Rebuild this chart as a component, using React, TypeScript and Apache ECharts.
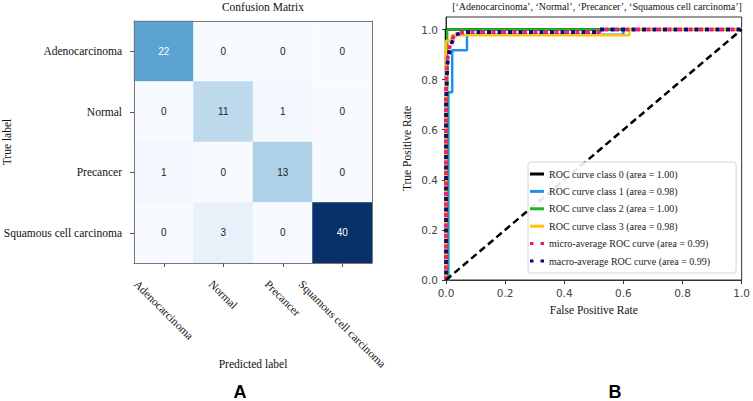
import React, { useEffect, useRef } from 'react';
import * as echarts from 'echarts';

const classNames = ['Adenocarcinoma', 'Normal', 'Precancer', 'Squamous cell carcinoma'];
// rows = true label, cols = predicted label
const confusion = [
  [22, 0, 0, 0],
  [0, 11, 1, 0],
  [1, 0, 13, 0],
  [0, 3, 0, 40],
];
const blues = ['#f7fbff', '#deebf7', '#c6dbef', '#9ecae1', '#6baed6', '#4292c6', '#2171b5', '#08519c', '#08306b'];

const rocClass0 = [[0, 0], [0, 1], [1, 1]];
const rocClass1 = [[0, 0], [0.008, 0], [0.008, 0.75], [0.021, 0.75], [0.021, 0.917], [0.071, 0.917], [0.071, 0.979], [0.6, 0.979], [0.6, 1], [1, 1]];
const rocClass2 = [[0, 0], [0.004, 0], [0.004, 1], [1, 1]];
const rocClass3 = [[0, 0], [0, 0.955], [0.019, 0.955], [0.019, 0.977], [0.62, 0.977], [0.62, 1], [1, 1]];
const rocMicro = [[0, 0], [0, 0.75], [0.002, 0.82], [0.006, 0.89], [0.014, 0.94], [0.025, 0.97], [0.04, 0.985], [0.07, 0.99], [0.52, 0.99], [0.52, 1], [1, 1]];
const rocMacro = [[0, 0], [0, 0.7], [0.003, 0.795], [0.004, 0.857], [0.012, 0.917], [0.02, 0.948], [0.033, 0.98], [0.066, 0.99], [0.52, 0.99], [0.52, 1], [1, 1]];
const chanceLine = [[0, 0], [1, 1]];
const classAuc = ['1.00', '0.98', '1.00', '0.98'];
const microAuc = '0.99';
const macroAuc = '0.99';

const SERIF = "'Liberation Serif', 'Times New Roman', serif";
const SANS = "'DejaVu Sans', sans-serif";

function measure(text: string, font: string): number {
  const ctx = document.createElement('canvas').getContext('2d');
  if (!ctx) return text.length * 5;
  ctx.font = font;
  return ctx.measureText(text).width;
}

export default function App() {
  const ref = useRef<HTMLDivElement>(null);
  useEffect(() => {
    if (!ref.current) return;
    const chart = echarts.init(ref.current, undefined, { renderer: 'svg' });

    const maxVal = Math.max(...confusion.flat());
    const heatData: any[] = [];
    confusion.forEach((row, i) =>
      row.forEach((v, j) => {
        heatData.push({ value: [j, i, v], label: { color: v > maxVal / 2 ? '#ffffff' : '#222222' } });
      })
    );

    const labelFontSize = 11.5;
    const rich: any = {};
    classNames.forEach((n, i) => {
      const w = measure(n, `${labelFontSize}px ${SERIF}`);
      const p = (w + labelFontSize) / 2;
      rich['c' + i] = { fontFamily: SERIF, fontSize: labelFontSize, color: '#111', padding: [p, 0, 0, p] };
    });

    const names = [
      ...classAuc.map((a, i) => `ROC curve class ${i} (area = ${a})`),
      `micro-average ROC curve (area = ${microAuc})`,
      `macro-average ROC curve (area = ${macroAuc})`,
    ];
    const colors = ['#000000', '#1f8fea', '#22b422', '#ffc20e', '#f0197f', '#0a0a78'];
    const rocData = [rocClass0, rocClass1, rocClass2, rocClass3, rocMicro, rocMacro];

    const rocSeries: any[] = rocData.map((d, i) => ({
      type: 'line',
      name: names[i],
      xAxisIndex: 2,
      yAxisIndex: 2,
      data: d,
      symbol: 'none',
      color: colors[i],
      lineStyle:
        i < 4
          ? { color: colors[i], width: 2.5 }
          : { color: colors[i], width: 3.8, type: [4, 6.5], dashOffset: i === 5 ? 5.2 : 0, cap: 'butt' },
      emphasis: { disabled: true },
      silent: true,
    }));
    rocSeries.push({
      type: 'line',
      name: 'chance',
      xAxisIndex: 2,
      yAxisIndex: 2,
      data: chanceLine,
      symbol: 'none',
      color: '#000',
      lineStyle: { color: '#000', width: 2.5, type: [7, 4] },
      silent: true,
    });

    const heatAxisCommon = {
      axisLine: { show: true, lineStyle: { color: '#777', width: 1 } },
      splitLine: { show: false },
    };

    chart.setOption({
      animation: false,
      grid: [
        { left: 129, top: 21, width: 243, height: 242 },
        { left: 446, top: 17, width: 296, height: 263, show: true, borderColor: '#333', borderWidth: 1, backgroundColor: 'transparent' },
      ],
      visualMap: {
        show: false,
        type: 'continuous',
        min: 0,
        max: maxVal,
        seriesIndex: 0,
        dimension: 2,
        inRange: { color: blues },
      },
      legend: {
        data: names.map((n, i) => ({
          name: n,
          icon: i < 4 ? 'path://M0,0H14V3H0Z' : 'path://M0,0H3.5V3H0Z M10.5,0H14V3H10.5Z',
        })),
        orient: 'vertical',
        left: 528,
        top: 162,
        itemWidth: 14,
        itemHeight: 3,
        itemGap: 5.4,
        itemStyle: { borderWidth: 0 },
        padding: [6, 26, 6, 2],
        backgroundColor: 'rgba(255,255,255,0.9)',
        borderColor: '#d4d4d4',
        borderWidth: 1,
        borderRadius: 3,
        selectedMode: false,
        textStyle: { fontFamily: SERIF, fontSize: 10, color: '#222', lineHeight: 12, padding: [0, 0, 0, 0] },
        itemTextGap: 12,
      },
      xAxis: [
        {
          type: 'category',
          gridIndex: 0,
          data: classNames,
          position: 'bottom',
          z: 10,
          ...heatAxisCommon,
          axisTick: { show: true, alignWithLabel: true, length: 4, lineStyle: { color: '#555' } },
          axisLabel: {
            interval: 0,
            rotate: -45,
            align: 'center',
            verticalAlign: 'middle',
            margin: 15,
            formatter: (v: string) => `{c${classNames.indexOf(v)}|${v}}`,
            rich,
          },
          name: 'Predicted label',
          nameLocation: 'middle',
          nameGap: 95,
          nameMoveOverlap: false,
          nameTextStyle: { fontFamily: SERIF, fontSize: 11.5, color: '#111' },
        },
        {
          type: 'category',
          gridIndex: 0,
          data: classNames,
          position: 'top',
          z: 10,
          ...heatAxisCommon,
          axisTick: { show: false },
          axisLabel: { show: false },
        },
        {
          type: 'value',
          gridIndex: 1,
          min: 0,
          max: 1,
          interval: 0.2,
          axisLine: { show: true, lineStyle: { color: '#333' } },
          axisTick: { show: true, length: 4, lineStyle: { color: '#333' } },
          splitLine: { show: false },
          axisLabel: { fontFamily: SANS, fontSize: 10.5, color: '#444', margin: 7, formatter: (v: number) => v.toFixed(1) },
          name: 'False Positive Rate',
          nameLocation: 'middle',
          nameGap: 24,
          nameMoveOverlap: false,
          nameTextStyle: { fontFamily: SERIF, fontSize: 11.5, color: '#111' },
        },
      ],
      yAxis: [
        {
          type: 'category',
          gridIndex: 0,
          data: classNames,
          inverse: true,
          position: 'left',
          z: 10,
          ...heatAxisCommon,
          axisTick: { show: true, alignWithLabel: true, length: 4, lineStyle: { color: '#555' } },
          axisLabel: { fontFamily: SERIF, fontSize: labelFontSize, color: '#111', margin: 12, interval: 0 },
          name: 'True label',
          nameLocation: 'middle',
          nameGap: 121,
          nameMoveOverlap: false,
          nameTextStyle: { fontFamily: SERIF, fontSize: 11.5, color: '#111' },
        },
        {
          type: 'category',
          gridIndex: 0,
          data: classNames,
          inverse: true,
          position: 'right',
          z: 10,
          ...heatAxisCommon,
          axisTick: { show: false },
          axisLabel: { show: false },
        },
        {
          type: 'value',
          gridIndex: 1,
          min: 0,
          max: 1.05,
          interval: 0.2,
          axisLine: { show: true, lineStyle: { color: '#333' } },
          axisTick: { show: true, length: 4, lineStyle: { color: '#333' } },
          splitLine: { show: false },
          axisLabel: {
            fontFamily: SANS,
            fontSize: 10.5,
            color: '#444',
            margin: 8,
            showMaxLabel: false,
            formatter: (v: number) => (v > 1.0001 ? '' : v.toFixed(1)),
          },
          name: 'True Positive Rate',
          nameLocation: 'middle',
          nameGap: 33,
          nameMoveOverlap: false,
          nameTextStyle: { fontFamily: SERIF, fontSize: 11.5, color: '#111' },
        },
      ],
      graphic: [
        { type: 'text', x: 263, y: 7, style: { text: 'Confusion Matrix', font: `11.5px ${SERIF}`, fill: '#111', align: 'center', verticalAlign: 'middle' } },
        {
          type: 'text',
          x: 597,
          y: 6,
          style: {
            text: '[' + classNames.map((n) => `\u2018${n}\u2019`).join(', ') + ']',
            font: `10px ${SERIF}`,
            fill: '#111',
            align: 'center',
            verticalAlign: 'middle',
          },
        },
        { type: 'text', x: 240, y: 392, style: { text: 'A', font: `bold 18px 'Liberation Sans', Arial, sans-serif`, fill: '#000', align: 'center', verticalAlign: 'middle' } },
        { type: 'text', x: 615, y: 392, style: { text: 'B', font: `bold 18px 'Liberation Sans', Arial, sans-serif`, fill: '#000', align: 'center', verticalAlign: 'middle' } },
      ],
      series: [
        {
          type: 'heatmap',
          xAxisIndex: 0,
          yAxisIndex: 0,
          data: heatData,
          label: { show: true, fontFamily: "'Liberation Sans', Arial, sans-serif", fontSize: 10, formatter: (p: any) => String(p.value[2]) },
          emphasis: { disabled: true },
          silent: true,
        },
        ...rocSeries,
      ],
    });
    return () => chart.dispose();
  }, []);
  return <div ref={ref} style={{ position: 'absolute', left: 0, top: 0, width: 753, height: 401, background: '#fff' }} />;
}
